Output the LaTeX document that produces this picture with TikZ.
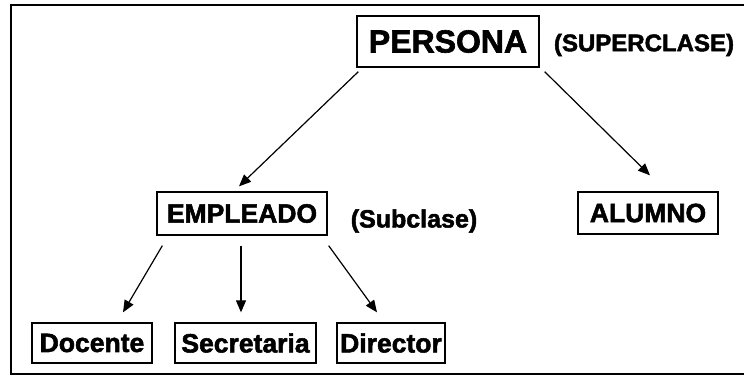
\documentclass[tikz,border=0pt]{standalone}
\usepackage{fontspec}
\setmainfont{Liberation Sans}[BoldFeatures={FakeBold=2}]
\usepackage{xcolor}
\usetikzlibrary{calc,arrows.meta}
\definecolor{ink}{HTML}{000000}
\tikzset{
  frame/.style={draw=ink, line width=2pt},
  cls/.style={draw=ink, line width=1.3pt, inner sep=0pt, text=ink, font=\bfseries\fontsize{26.5}{30}\selectfont},
  tag/.style={text=ink, inner sep=0pt, font=\bfseries\fontsize{24}{28}\selectfont},
  arr/.style={draw=ink, line width=1.2pt, -{Triangle[length=12pt,width=10pt]}}
}
\begin{document}
\begin{tikzpicture}[x=1pt,y=-1pt]
  \useasboundingbox (0,0) rectangle (744,376);
  \draw[frame] (11,4.5) rectangle (760,373.5);
  % classes
  \node[cls, minimum width=182pt, minimum height=51pt, font=\bfseries\fontsize{32}{36}\selectfont] (persona) at (448,41.5) {PERSONA};
  \node[cls, minimum width=170pt, minimum height=43pt] (empleado) at (242,213.5) {EMPLEADO};
  \node[cls, minimum width=140pt, minimum height=42pt] (alumno) at (648,213) {ALUMNO};
  \node[cls, minimum width=120pt, minimum height=40pt] (docente) at (92,343) {Docente};
  \node[cls, minimum width=141pt, minimum height=40pt] (secretaria) at (245.5,343) {Secretaria};
  \node[cls, minimum width=108pt, minimum height=40pt] (director) at (391,343) {Director};
  \node[tag] (super) at (644,45) {(SUPERCLASE)};
  \node[tag, font=\bfseries\fontsize{25}{29}\selectfont] (sub) at (414,221) {(Subclase)};
  % herencia
  \draw[arr] ($(persona.south west)+(2,4)$) -- ($(empleado.north)+(-3,-5)$);
  \draw[arr] ($(persona.south east)+(5,4)$) -- ($(alumno.north)+(2,-16)$);
  \draw[arr] ($(empleado.south west)+(6,10)$) -- ($(docente.north)+(31,-10)$);
  \draw[arr] ($(empleado.south)+(-1,10)$) -- ($(secretaria.north)+(-4.5,-10)$);
  \draw[arr] ($(empleado.south east)+(1,10)$) -- ($(director.north)+(-14,-10)$);
\end{tikzpicture}
\end{document}
